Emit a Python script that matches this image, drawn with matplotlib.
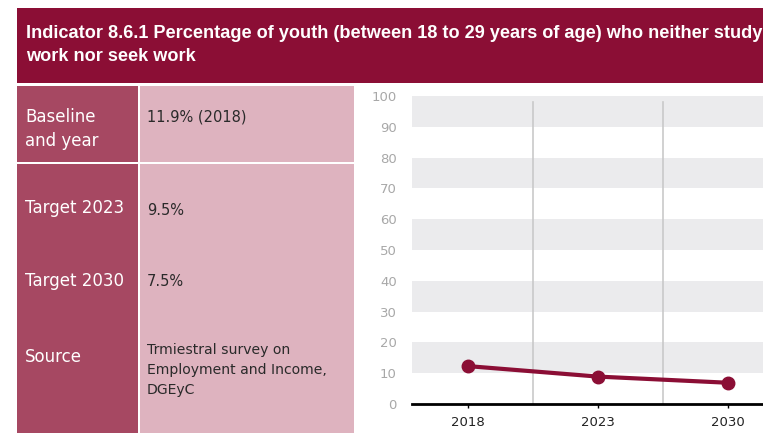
import matplotlib
matplotlib.use("Agg")
import matplotlib.pyplot as plt
from matplotlib.patches import Rectangle

# data
years = ["2018", "2023", "2030"]
values = [12.3, 8.9, 6.9]
y_ticks = [0, 10, 20, 30, 40, 50, 60, 70, 80, 90, 100]

title_lines = "Indicator 8.6.1 Percentage of youth (between 18 to 29 years of age) who neither study\nwork nor seek work"
row_labels = ["Baseline\nand year", "Target 2023", "Target 2030", "Source"]
row_values = ["11.9% (2018)", "9.5%", "7.5%", "Trmiestral survey on\nEmployment and Income,\nDGEyC"]

W, H = 763, 433
DARK = "#8b0e35"
ROSE = "#a64862"
PINK = "#deb3bf"
BAND = "#ebebed"

plt.rcParams["font.family"] = ["DejaVu Sans"]

fig = plt.figure(figsize=(W / 100, H / 100), dpi=100)


def fx(px):
    return px / W


def fy(py):
    return 1 - py / H


def box(x0, y0, x1, y1, color):
    fig.patches.append(Rectangle((fx(x0), fy(y1)), fx(x1 - x0), (y1 - y0) / H,
                                 transform=fig.transFigure, color=color, lw=0, zorder=0))


# header band
box(17, 8, W + 5, 83, DARK)
fig.text(fx(26), fy(45), title_lines, color="white", fontsize=13.1, fontweight="bold",
         family=["Liberation Sans", "DejaVu Sans"], ha="left", va="center", linespacing=1.4)

# table
box(17, 86, 138, H + 2, ROSE)
box(140, 86, 354, H + 2, PINK)
box(17, 162, 354, 164, "white")

label_y = [129, 208, 281, 357]
value_y = [117, 210, 281, 370]
for i in range(len(row_labels)):
    fig.text(fx(25), fy(label_y[i]), row_labels[i], color="white", fontsize=12,
             ha="left", va="center", linespacing=1.4)
    if i == 3:
        fig.text(fx(147), fy(value_y[i]), row_values[i], color="#2a2a2a", fontsize=10.1,
                 ha="left", va="center", linespacing=1.55)
    else:
        fig.text(fx(147), fy(value_y[i]), row_values[i], color="#2a2a2a", fontsize=10.5,
                 ha="left", va="center")

# chart
ax = fig.add_axes([fx(412), fy(404), fx(W - 412), (404 - 96) / H])
x = list(range(len(years)))
for lo in range(10, 100, 20):
    ax.axhspan(lo, lo + 10, color=BAND, lw=0, zorder=0)
for xv in [0.5, 1.5]:
    ax.plot([xv, xv], [0, 98], color="#c9c9c9", lw=1.2, zorder=1)
ax.plot(x, values, color=DARK, lw=3, marker="o", markersize=9, zorder=3, clip_on=False)

ax.set_xlim(-0.43, 2.27)
ax.set_ylim(0, 100)
ax.set_xticks(x)
ax.set_xticklabels(years, fontsize=9.5, color="#222222")
ax.set_yticks(y_ticks)
ax.set_yticklabels([str(v) for v in y_ticks], fontsize=9.5, color="#a8a8a8")
ax.tick_params(axis="y", length=0, pad=11)
ax.tick_params(axis="x", length=3, width=1, color="black", pad=6)
for s in ["top", "right", "left"]:
    ax.spines[s].set_visible(False)
ax.spines["bottom"].set_linewidth(2)
ax.spines["bottom"].set_color("black")
ax.set_facecolor("none")

fig.savefig("out.png", dpi=100)
